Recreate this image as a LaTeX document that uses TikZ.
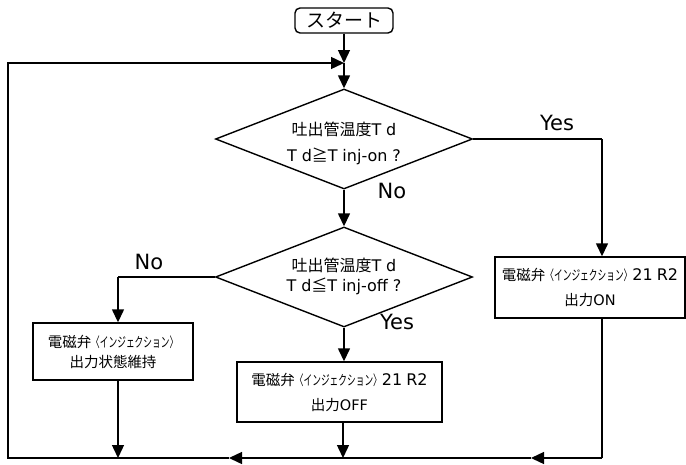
\documentclass[tikz,border=0pt]{standalone}
\usepackage{fontspec}
\usepackage{graphicx}
\setmainfont{Noto Sans CJK JP}
\newfontfamily\lat{DejaVu Sans}
\usetikzlibrary{shapes.geometric,arrows.meta}
\newcommand\katasm[1]{\scalebox{0.6}[0.95]{#1}}
\newcommand\gp{\hspace{0.3em}}
\newcommand\rnum{{\lat\fontsize{16}{25}\selectfont 21\hspace{0.25em}R2}}
\begin{document}
\begin{tikzpicture}[x=1pt,y=-1pt,
  line width=1.4pt,
  arr/.style={-{Triangle[length=13pt,width=12pt]}},
  box/.style={draw,rectangle,inner sep=0pt,align=center,font=\fontsize{14.5}{25}\selectfont},
  dia/.style={draw,diamond,aspect=2.57,inner sep=0pt,minimum width=257pt,minimum height=100pt},
  diatext/.style={align=center,inner sep=0pt,font=\fontsize{16}{26}\selectfont},
  lbl/.style={font=\lat\fontsize{21}{21}\selectfont,inner sep=0pt}]
\useasboundingbox (0,0) rectangle (686,464);

\node[draw,rounded corners=5pt,minimum width=98pt,minimum height=25pt,inner sep=0pt,font=\fontsize{19}{19}\selectfont] (start) at (344,20.5) {スタート};
\coordinate (merge) at (344,63);
\node[dia] (d1) at (344,139) {};
\node[diatext] (d1t) at (344,143) {吐出管温度{\lat T\gp d}\\{\lat T\gp d}≧{\lat T\gp inj-on\gp ?}};
\node[dia] (d2) at (344,277) {};
\node[diatext,font=\fontsize{16}{20}\selectfont] (d2t) at (344,276.5) {吐出管温度{\lat T\gp d}\\{\lat T\gp d}≦{\lat T\gp inj-off\gp ?}};
\node[box,minimum width=190pt,minimum height=61pt] (on) at (590,287.5) {電磁弁\katasm{〈インジェクション〉}\rnum\\出力{\lat ON}};
\node[box,minimum width=160pt,minimum height=57pt,font=\fontsize{14.5}{20}\selectfont] (keep) at (113,351.5) {電磁弁\katasm{〈インジェクション〉}\\出力状態維持};
\node[box,minimum width=205pt,minimum height=60pt] (off) at (339.5,392) {電磁弁\katasm{〈インジェクション〉}\rnum\\出力{\lat OFF}};

\coordinate (rt) at (602,139);
\coordinate (rb) at (602,458);
\coordinate (lt) at (118,277);
\coordinate (lb) at (118,458);
\coordinate (mb) at (343,458);
\coordinate (bl) at (8,458);
\coordinate (tl) at (8,63);
\coordinate (a1) at (531,458);
\coordinate (a2) at (229,458);

\draw[arr] (start.south) -- (merge);
\draw[arr] (merge) -- (d1.north);
\draw (d1.east) -- (rt);
\draw[arr] (rt) -- (rt |- on.north);
\draw[arr] (d1.south) -- (d2.north);
\draw (d2.west) -- (lt);
\draw[arr] (lt) -- (lt |- keep.north);
\draw[arr] (d2.south) -- (d2.south |- off.north);
\draw[arr] (keep.south -| lb) -- (lb);
\draw[arr] (off.south -| mb) -- (mb);
\draw (on.south -| rb) -- (rb);
\draw[arr] (rb) -- (a1);
\draw[arr] (a1) -- (a2);
\draw[line join=miter] (a2) -- (bl) -- (tl) -- ([xshift=-10pt]merge);
\draw[arr] (tl) -- (merge);

\node[lbl] (yes1) at (557,123) {Yes};
\node[lbl] (no1) at (392,191) {No};
\node[lbl] (no2) at (149,262) {No};
\node[lbl] (yes2) at (397,322) {Yes};
\end{tikzpicture}
\end{document}
